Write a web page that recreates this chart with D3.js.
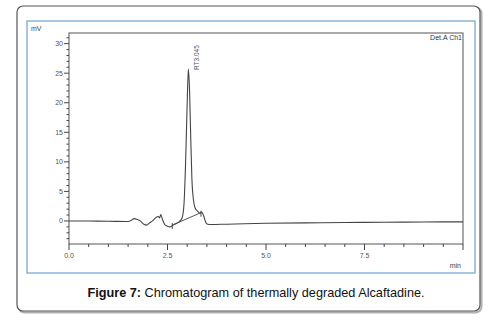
<!DOCTYPE html>
<html><head><meta charset="utf-8">
<script src="https://cdn.jsdelivr.net/npm/d3@7"></script>
<style>body{margin:0;background:#fff}svg{display:block}</style>
</head><body>
<script>
// Data
const times = [0, 0.5, 1.0, 1.5, 1.58, 1.65, 1.72, 1.8, 1.9, 1.97, 2.05, 2.12, 2.2, 2.27, 2.3, 2.33, 2.37, 2.43, 2.5, 2.55, 2.6, 2.64, 2.7, 2.8, 2.87, 2.92, 2.96, 3.0, 3.03, 3.06, 3.09, 3.12, 3.16, 3.2, 3.27, 3.33, 3.37, 3.42, 3.47, 3.52, 3.6, 4.0, 5.0, 6.0, 7.0, 8.0, 9.0, 10.0];
const signal = [0, -0.02, -0.05, -0.1, 0.1, 0.4, 0.3, 0.05, -0.55, -0.7, -0.3, 0.0, 0.55, 0.75, 0.5, 1.1, 0.3, -0.6, -0.9, -1.0, -0.9, -0.7, -0.5, -0.1, 0.5, 3, 10, 20, 25.7, 22, 14, 7, 3.5, 2.2, 1.6, 1.3, 1.5, 0.8, -0.2, -0.55, -0.6, -0.55, -0.4, -0.32, -0.27, -0.22, -0.18, -0.15];
const baselineTimes = [2.62, 3.35];
const baselineValues = [-0.7, 1.4];
const peakLabel = "RT3.045";
const peakTime = 3.045;
const yTicks = [0, 5, 10, 15, 20, 25, 30];
const xTicks = [0, 2.5, 5, 7.5, 10];
const xTickLabels = ["0.0", "2.5", "5.0", "7.5", ""];

const W = 491, H = 323;
const svg = d3.select("body").append("svg").attr("width", W).attr("height", H);

// outer box with shadow
svg.append("rect").attr("x", 18.5).attr("y", 7.5).attr("width", 463).attr("height", 305)
  .attr("rx", 6).attr("fill", "none").attr("stroke", "#b0b0b0").attr("stroke-width", 2);
svg.append("rect").attr("x", 17).attr("y", 6).attr("width", 463).attr("height", 305)
  .attr("rx", 6).attr("fill", "#fff").attr("stroke", "#555").attr("stroke-width", 1.2);
// blue inner frame
svg.append("rect").attr("x", 27).attr("y", 21).attr("width", 448).attr("height", 252)
  .attr("fill", "#fff").attr("stroke", "#86b6dc").attr("stroke-width", 1.5);

const x = d3.scaleLinear().domain([0, 10]).range([69, 463]);
const y = d3.scaleLinear().domain([-3.9, 31.8]).range([244, 33]);

// plot frame
svg.append("rect").attr("x", 69).attr("y", 33).attr("width", 394).attr("height", 211)
  .attr("fill", "none").attr("stroke", "#555").attr("stroke-width", 1);

const tickColor = "#444";
// y ticks
const gy = svg.append("g");
d3.range(-3, 32, 1).forEach(v => {
  const major = yTicks.includes(v);
  gy.append("line").attr("x1", 69).attr("x2", major ? 64 : 66.5)
    .attr("y1", y(v)).attr("y2", y(v)).attr("stroke", tickColor).attr("stroke-width", 1);
});
yTicks.forEach(v => {
  gy.append("text").attr("x", 63).attr("y", y(v) + 2.5).attr("text-anchor", "end")
    .attr("font-family", "Liberation Sans, Arial, sans-serif").attr("font-size", 7)
    .attr("fill", "#555").text(v);
});
// x ticks
const gx = svg.append("g");
d3.range(0, 10.01, 0.5).forEach(v => {
  const major = xTicks.some(t => Math.abs(t - v) < 1e-6);
  gx.append("line").attr("x1", x(v)).attr("x2", x(v)).attr("y1", 244).attr("y2", major ? 250 : 247)
    .attr("stroke", tickColor).attr("stroke-width", 1);
});
xTicks.forEach((v, i) => {
  gx.append("text").attr("x", x(v)).attr("y", 258).attr("text-anchor", "middle")
    .attr("font-family", "Liberation Sans, Arial, sans-serif").attr("font-size", 7)
    .attr("fill", "#555").text(xTickLabels[i]);
});

const small = {"font-family": "Liberation Sans, Arial, sans-serif", "font-size": 7, "fill": "#444"};
function txt(xp, yp, s, anchor) {
  const t = svg.append("text").attr("x", xp).attr("y", yp).attr("text-anchor", anchor || "start").text(s);
  Object.entries(small).forEach(([k, v]) => t.attr(k, v));
  return t;
}
txt(31, 31, "mV");
txt(461, 268, "min", "end");
txt(462, 40, "Det.A Ch1", "end").attr("fill", "#333");

// trace
const line = d3.line().x((d, i) => x(times[i])).y((d, i) => y(signal[i])).curve(d3.curveMonotoneX);
svg.append("path").datum(signal).attr("d", line).attr("fill", "none")
  .attr("stroke", "#444").attr("stroke-width", 1.1);

// integration baseline
svg.append("line").attr("x1", x(baselineTimes[0])).attr("y1", y(baselineValues[0]))
  .attr("x2", x(baselineTimes[1])).attr("y2", y(baselineValues[1]))
  .attr("stroke", "#555").attr("stroke-width", 1);
baselineTimes.forEach((t, i) => {
  svg.append("line").attr("x1", x(t)).attr("x2", x(t))
    .attr("y1", y(baselineValues[i]) - 2).attr("y2", y(baselineValues[i]) + 4)
    .attr("stroke", "#444").attr("stroke-width", 1);
});

// peak label
svg.append("text").attr("transform", `translate(${x(peakTime) + 10},70) rotate(-90)`)
  .attr("font-family", "Liberation Sans, Arial, sans-serif").attr("font-size", 6.5)
  .attr("fill", "#555").text(peakLabel);

// caption
const cap = svg.append("text").attr("x", 256).attr("y", 297).attr("text-anchor", "middle")
  .attr("font-family", "Liberation Sans, Arial, sans-serif").attr("font-size", 12.7).attr("fill", "#111");
cap.append("tspan").attr("font-weight", "bold").text("Figure 7:");
cap.append("tspan").text(" Chromatogram of thermally degraded Alcaftadine.");
</script>
</body></html>
